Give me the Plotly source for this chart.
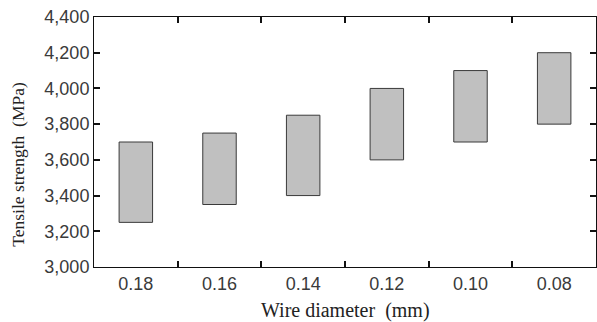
import plotly.graph_objects as go

diameters = ["0.18", "0.16", "0.14", "0.12", "0.10", "0.08"]
strength_low = [3250, 3350, 3400, 3600, 3700, 3800]
strength_high = [3700, 3750, 3850, 4000, 4100, 4200]
y_ticks = [3000, 3200, 3400, 3600, 3800, 4000, 4200, 4400]

fig = go.Figure()
fig.add_trace(go.Bar(
    x=diameters,
    y=[h - l for h, l in zip(strength_high, strength_low)],
    base=strength_low,
    width=0.4,
    marker=dict(color="#c0c0c0", line=dict(color="#3a3a3a", width=1)),
    showlegend=False,
))

tick_font = dict(family="Liberation Sans", size=18, color="#3a3a3a")
xtitle_font = dict(family="Liberation Serif", size=20, color="#222222")
ytitle_font = dict(family="Liberation Serif", size=17.5, color="#222222")

fig.update_layout(
    width=597, height=322,
    margin=dict(l=94, r=1, t=17, b=55),
    paper_bgcolor="white", plot_bgcolor="white",
    bargap=0.6,
    annotations=[
        dict(text="Wire diameter\u00a0\u00a0(mm)", xref="paper", yref="paper",
             x=0.5, y=-0.172, xanchor="center", yanchor="middle",
             showarrow=False, font=xtitle_font),
        dict(text="Tensile strength\u00a0\u00a0(MPa)", xref="paper", yref="paper",
             x=-0.153, y=0.41, xanchor="center", yanchor="middle",
             textangle=-90, showarrow=False, font=ytitle_font),
    ],
)
fig.update_xaxes(
    type="category",
    tickson="boundaries",
    ticks="inside", ticklen=6, tickwidth=1.5, tickcolor="#111",
    showline=True, linecolor="#111", linewidth=1, mirror="ticks",
    showgrid=False,
    automargin=False,
    tickfont=tick_font,
)
fig.update_yaxes(
    range=[3000, 4400],
    tickvals=y_ticks,
    tickformat=",d",
    ticks="inside", ticklen=6, tickwidth=1.5, tickcolor="#111",
    showline=True, linecolor="#111", linewidth=1, mirror="ticks",
    showgrid=False, zeroline=False,
    automargin=False,
    tickfont=tick_font,
)

fig.write_html("out.html", config={"displayModeBar": False},
               post_script="document.body.style.margin='0';")
